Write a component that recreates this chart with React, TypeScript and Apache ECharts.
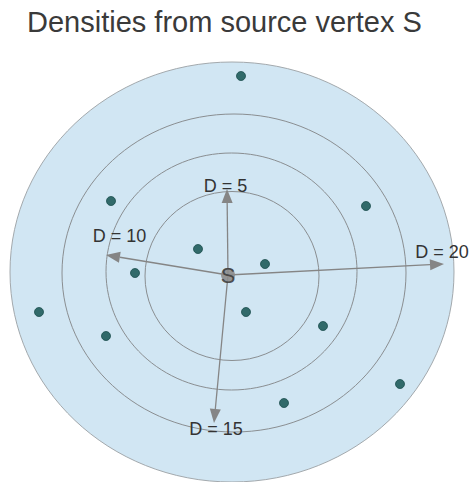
import React, { useEffect, useRef } from "react";
import * as echarts from "echarts";

// Coordinates are in a unit system centred on the source vertex S (y up).
const ringNames = ["outer", "D15", "D10", "D5"];
const ringCx = [4, 6, 3.5, 4];
const ringCy = [3, 2, 3.5, -1];
const ringRx = [222, 172, 125.5, 87];
const ringRy = [210, 159, 118.5, 84.5];

const pointX = [13, -117, 138, -30, -93, 37, 18, -189, -122, 95, 172, 56];
const pointY = [199, 74, 69, 26, 2, 11, -37, -37, -61, -51, -109, -128];

const arrowLabels = ["D = 5", "D = 10", "D = 20", "D = 15"];
const arrowX = [-1, -122, 216, -14];
const arrowY = [86, 20, 11, -148];

const sourceLabel = "S";
const titleText = "Densities from source vertex S";

const FONT = "'Liberation Sans', Arial, sans-serif";

export default function App() {
  const ref = useRef<HTMLDivElement>(null);
  useEffect(() => {
    document.body.style.margin = "0";
    const chart = echarts.init(ref.current!, null, { renderer: "svg" });
    const ringData = ringNames.map((n, i) => [ringCx[i], ringCy[i], ringRx[i], ringRy[i], i]);
    const arrowData = arrowLabels.map((l, i) => [arrowX[i], arrowY[i], i]);
    const labelOffsets = [
      [-1.5, -3],
      [13.5, -19],
      [-2, -12],
      [2, 5.5],
    ];
    chart.setOption({
      animation: false,
      title: {
        text: titleText,
        left: 22,
        top: 2,
        textStyle: { fontFamily: FONT, fontSize: 29, fontWeight: "normal", color: "#3a3a3a" },
      },
      grid: { left: 0, right: 0, top: 0, bottom: 0 },
      xAxis: { type: "value", min: -228, max: 243, show: false },
      yAxis: { type: "value", min: -207, max: 275, show: false },
      series: [
        {
          type: "custom",
          name: "rings",
          data: ringData,
          renderItem: (params: any, api: any) => {
            const c = api.coord([api.value(0), api.value(1)]);
            const s = api.size([api.value(2), api.value(3)]);
            const idx = api.value(4);
            return {
              type: "ellipse",
              shape: { cx: c[0], cy: c[1], rx: s[0], ry: s[1] },
              style: {
                fill: idx === 0 ? "#d1e6f3" : "none",
                stroke: idx === 0 ? "#a3a9ad" : "#8a8e91",
                lineWidth: 1,
              },
            };
          },
          z: 1,
        },
        {
          type: "custom",
          name: "arrows",
          data: arrowData,
          renderItem: (params: any, api: any) => {
            const o = api.coord([0, 0]);
            const t = api.coord([api.value(0), api.value(1)]);
            const idx = api.value(2);
            const dx = t[0] - o[0];
            const dy = t[1] - o[1];
            const len = Math.sqrt(dx * dx + dy * dy);
            const ux = dx / len;
            const uy = dy / len;
            const hl = 14;
            const hw = 5.5;
            const bx = t[0] - ux * hl;
            const by = t[1] - uy * hl;
            const off = labelOffsets[idx];
            return {
              type: "group",
              children: [
                {
                  type: "line",
                  shape: { x1: o[0], y1: o[1], x2: bx, y2: by },
                  style: { stroke: "#858585", lineWidth: 1.3 },
                },
                {
                  type: "polygon",
                  shape: {
                    points: [
                      [t[0], t[1]],
                      [bx - uy * hw, by + ux * hw],
                      [bx + uy * hw, by - ux * hw],
                    ],
                  },
                  style: { fill: "#858585" },
                },
                {
                  type: "text",
                  x: t[0] + off[0],
                  y: t[1] + off[1],
                  style: {
                    text: arrowLabels[idx],
                    fontSize: 18,
                    fontFamily: FONT,
                    fill: "#333",
                    align: "center",
                    verticalAlign: "middle",
                  },
                },
              ],
            };
          },
          z: 3,
        },
        {
          type: "scatter",
          name: "points",
          data: pointX.map((x, i) => [x, pointY[i]]),
          symbol: "circle",
          symbolSize: 9,
          itemStyle: { color: "#094b47", borderColor: "#063b38", borderWidth: 0.8 },
          z: 4,
        },
        {
          type: "scatter",
          name: "source",
          data: [[0, 0]],
          symbol: "circle",
          symbolSize: 14,
          itemStyle: { color: "#8c8c8c", opacity: 0.9 },
          label: {
            show: true,
            position: "inside",
            formatter: sourceLabel,
            fontSize: 22,
            fontFamily: FONT,
            color: "#3d3d3d",
          },
          z: 5,
        },
      ],
    });
    return () => chart.dispose();
  }, []);
  return <div ref={ref} style={{ width: 471, height: 482, position: "absolute", left: 0, top: 0 }} />;
}
